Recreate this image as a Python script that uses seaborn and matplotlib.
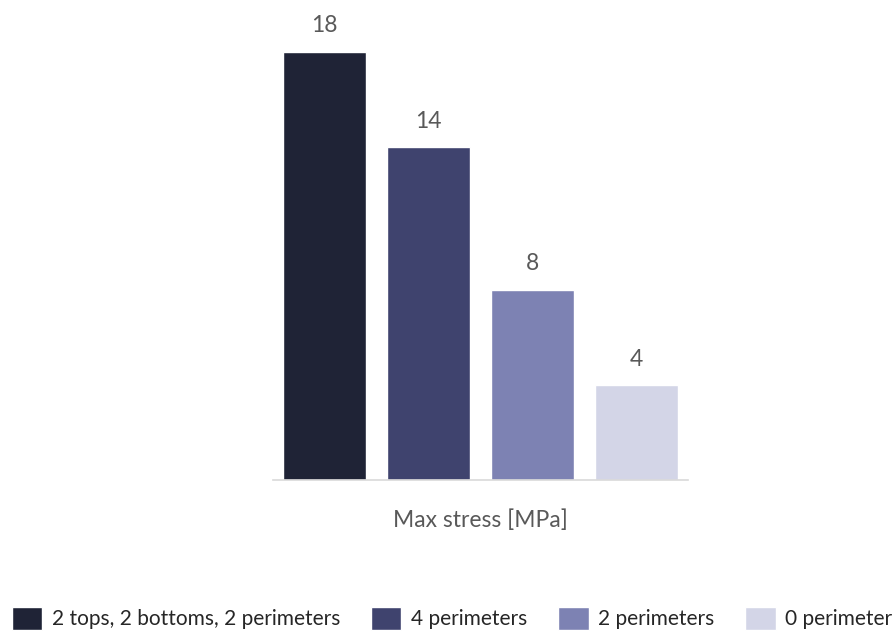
import matplotlib
matplotlib.use("Agg")
import matplotlib.pyplot as plt
import seaborn as sns
import pandas as pd

# Data
metric = ["Max stress [MPa]"]
series = ["2 tops, 2 bottoms, 2 perimeters", "4 perimeters", "2 perimeters", "0 perimeter"]
values = [18, 14, 8, 4]
colors = ["#1f2336", "#3f436e", "#7d82b3", "#d3d5e7"]

df = pd.DataFrame({
    "metric": metric * len(series),
    "series": series,
    "value": values,
})

sns.set_theme(style="white")
plt.rcParams["font.family"] = ["Lato", "DejaVu Sans"]
text_color = "#595959"

fig = plt.figure(figsize=(8.95, 6.36), dpi=100)
ax = fig.add_axes([0.305, 0.2453, 0.4637, 0.7390])

sns.barplot(data=df, x="metric", y="value", hue="series", hue_order=series,
            palette=colors, width=1.0, gap=0.2, saturation=1.0, ax=ax,
            legend=True)

for container in ax.containers:
    ax.bar_label(container, fmt="%.0f", padding=11, fontsize=16.5, color=text_color)

ax.set_xlim(-0.5, 0.5)
ax.set_ylim(0, 19.75)
ax.set_xlabel("")
ax.set_ylabel("")
ax.set_yticks([])
ax.tick_params(axis="x", length=0, pad=21, labelsize=16.5, labelcolor=text_color)
for side in ["top", "left", "right"]:
    ax.spines[side].set_visible(False)
ax.spines["bottom"].set_color("#d9d9d9")
ax.spines["bottom"].set_linewidth(1.2)

sns.move_legend(ax, loc="upper left", bbox_to_anchor=(12 / 895, 1 - 607 / 636),
                bbox_transform=fig.transFigure, ncol=4, frameon=False,
                title=None, fontsize=15, handlelength=1.45, handleheight=1.3,
                handletextpad=0.45, columnspacing=1.5, borderpad=0,
                borderaxespad=0)
for t in ax.get_legend().get_texts():
    t.set_color("#262626")

fig.savefig("out.png", dpi=100)
